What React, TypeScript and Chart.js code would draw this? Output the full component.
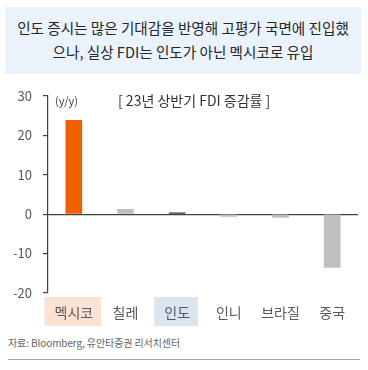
import React, { useEffect, useRef } from "react";
import { Chart, registerables } from "chart.js";

Chart.register(...registerables);

const categories = ["멕시코", "칠레", "인도", "인니", "브라질", "중국"];
const fdiGrowth = [23.8, 1.2, 0.3, -0.6, -0.85, -13.5];
const barColors = ["#EF6100", "#BFBFBF", "#203864", "#BFBFBF", "#BFBFBF", "#BFBFBF"];
const highlightColors: (string | null)[] = ["#FBE2D5", null, "#DAE5F1", null, null, null];
const yMin = -20;
const yMax = 30;
const yStep = 10;

const KFONT = "'Noto Sans CJK KR', 'Noto Sans', sans-serif";

const highlightPlugin = {
  id: "labelHighlight",
  beforeDraw(chart: any) {
    const ctx = chart.ctx;
    const xs = chart.scales.x;
    ctx.save();
    ctx.font = `14px ${KFONT}`;
    categories.forEach((c, i) => {
      const col = highlightColors[i];
      if (!col) return;
      const cx = xs.getPixelForValue(i);
      const w = ctx.measureText(c).width + 18;
      ctx.fillStyle = col;
      ctx.fillRect(cx - w / 2 - 1, chart.chartArea.bottom + 4, w, 29);
    });
    ctx.restore();
  },
};

export default function App() {
  const ref = useRef<HTMLCanvasElement>(null);
  useEffect(() => {
    document.body.style.margin = "0";
    const chart = new Chart(ref.current!, {
      type: "bar",
      data: {
        labels: categories,
        datasets: [
          {
            data: fdiGrowth,
            backgroundColor: barColors,
            barThickness: 16,
            borderWidth: 0,
          },
        ],
      },
      options: {
        animation: false,
        responsive: false,
        maintainAspectRatio: false,
        layout: { padding: { top: 10, right: 10, left: 0, bottom: 0 } },
        plugins: { legend: { display: false }, tooltip: { enabled: false } },
        scales: {
          x: {
            grid: { display: false, drawTicks: false },
            border: { display: false },
            ticks: {
              color: "#595959",
              font: { family: KFONT, size: 14 },
              padding: 11,
              maxRotation: 0,
              autoSkip: false,
            },
            afterFit(scale: any) {
              scale.height = 42;
            },
          },
          y: {
            min: yMin,
            max: yMax,
            ticks: {
              stepSize: yStep,
              color: "#595959",
              font: { family: KFONT, size: 13 },
              padding: 11,
            },
            grid: {
              drawOnChartArea: true,
              drawTicks: true,
              tickLength: 5,
              color: (c: any) => (c.tick && c.tick.value === 0 ? "#404040" : "rgba(0,0,0,0)"),
              tickColor: "#404040",
              lineWidth: 1.2,
            },
            border: { display: true, color: "#404040", width: 1.2 },
            afterFit(scale: any) {
              scale.width = 48;
            },
          },
        },
      },
      plugins: [highlightPlugin],
    });
    return () => chart.destroy();
  }, []);

  return (
    <div style={{ position: "fixed", left: 0, top: 0, width: 368, height: 370, background: "#fff", fontFamily: KFONT }}>
      <div
        style={{
          position: "absolute",
          left: 5,
          top: 7,
          width: 356,
          height: 67,
          background: "#EAF3FC",
          color: "#262626",
          fontSize: 14.6,
          lineHeight: "24px",
          textAlign: "center",
          paddingTop: 9,
          boxSizing: "border-box",
          whiteSpace: "nowrap",
        }}
      >
        인도 증시는 많은 기대감을 반영해 고평가 국면에 진입했
        <br />
        으나, 실상 FDI는 인도가 아닌 멕시코로 유입
      </div>
      <canvas ref={ref} width={368} height={258} style={{ position: "absolute", left: 0, top: 77 }} />
      <div style={{ position: "absolute", left: 55, top: 92, fontSize: 11, color: "#404040", lineHeight: "16px" }}>(y/y)</div>
      <div style={{ position: "absolute", left: 118, top: 91, fontSize: 14, color: "#333", lineHeight: "18px" }}>
        [ 23년 상반기 FDI 증감률 ]
      </div>
      <div style={{ position: "absolute", left: 8, top: 335, fontSize: 10, color: "#666", lineHeight: "16px", letterSpacing: -0.1 }}>
        자료: Bloomberg, 유안타증권 리서치센터
      </div>
      <div style={{ position: "absolute", left: 8, top: 359, width: 352, height: 1, background: "#A6A6A6" }} />
    </div>
  );
}
